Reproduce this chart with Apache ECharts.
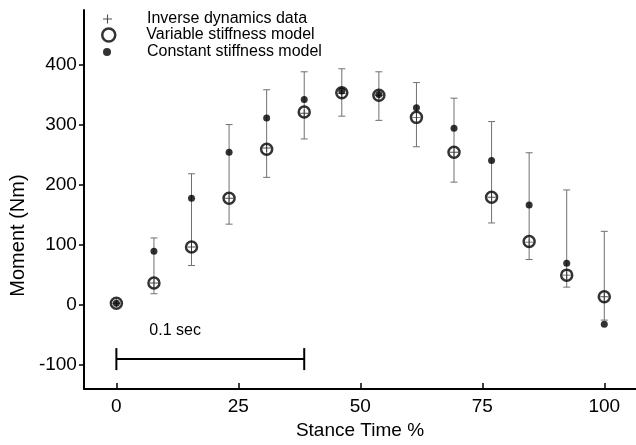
<!DOCTYPE html>
<html>
<head>
<meta charset="utf-8">
<script src="https://cdn.jsdelivr.net/npm/echarts@6/dist/echarts.min.js"></script>
<style>html,body{margin:0;padding:0;background:#fff}#c{width:636px;height:445px}</style>
</head>
<body>
<div id="c"></div>
<script>
// ---- data ----
const stancePct = [0, 7.7, 15.4, 23.1, 30.8, 38.5, 46.2, 53.8, 61.5, 69.2, 76.9, 84.6, 92.3, 100];
const inverseData = [3, 37, 97, 178, 262, 320, 353, 350, 313, 255, 180, 105, 50, 14];
const errLow  = [3, 19, 66, 135, 213, 277, 315, 308, 264, 205, 137, 76, 30, -25];
const errHigh = [3, 112, 219, 301, 359, 389, 394, 389, 371, 345, 306, 254, 192, 123];
const variableModel = [3, 37, 97, 178, 260, 322, 354, 350, 313, 255, 180, 106, 50, 14];
const constantModel = [3, 90, 178, 255, 312, 343, 357, 351, 329, 295, 241, 167, 70, -32];
const xTicks = [0, 25, 50, 75, 100];
const yTicks = [-100, 0, 100, 200, 300, 400];
const scaleBar = [0, 38.5, -90];   // start %, end %, moment level
const scaleBarLabel = '0.1 sec';
const seriesNames = ['Inverse dynamics data', 'Variable stiffness model', 'Constant stiffness model'];

const FONT = '"Liberation Sans", Arial, Helvetica, sans-serif';
const plusPath = 'path://M-0.12,-1H0.12V-0.12H1V0.12H0.12V1H-0.12V0.12H-1V-0.12H-0.12Z';

const pairs = a => stancePct.map((x, i) => [x, a[i]]);

const chart = echarts.init(document.getElementById('c'), null, {renderer: 'canvas'});
const legendBase = {
  orient: 'vertical', itemGap: 0, padding: 0,
  textStyle: {fontFamily: FONT, fontSize: 16, color: '#000'},
  selectedMode: false
};
chart.setOption({
  animation: false,
  backgroundColor: '#fff',
  grid: {left: 75, right: 0, top: 10, bottom: 51},
  legend: [
    Object.assign({}, legendBase, {data: [seriesNames[0]], top: 11, itemWidth: 9, itemHeight: 9, left: 103,
      textStyle: Object.assign({}, legendBase.textStyle, {padding: [0, 0, 0, 30]})}),
    Object.assign({}, legendBase, {data: [seriesNames[1]], top: 27, itemWidth: 13, itemHeight: 13, left: 101,
      itemStyle: {borderWidth: 2.5, borderColor: '#000', color: 'transparent'},
      textStyle: Object.assign({}, legendBase.textStyle, {padding: [0, 0, 0, 26]})}),
    Object.assign({}, legendBase, {data: [seriesNames[2]], top: 44, itemWidth: 8, itemHeight: 8, left: 103,
      textStyle: Object.assign({}, legendBase.textStyle, {padding: [0, 0, 0, 31]})})
  ],
  xAxis: {
    type: 'value', min: -6.65, max: 106.5,
    name: 'Stance Time %', nameLocation: 'middle', nameGap: 25,
    nameTextStyle: {fontFamily: FONT, fontSize: 19, color: '#000'},
    axisLine: {show: true, onZero: false, lineStyle: {color: '#000', width: 2}},
    axisTick: {show: true, inside: true, length: 6, customValues: xTicks, lineStyle: {color: '#000', width: 1.5}},
    axisLabel: {customValues: xTicks, fontFamily: FONT, fontSize: 19, color: '#000', margin: 8},
    splitLine: {show: false}
  },
  yAxis: {
    type: 'value', min: -140, max: 492,
    name: 'Moment (Nm)', nameLocation: 'middle', nameGap: 43, nameRotate: 90,
    nameTextStyle: {fontFamily: FONT, fontSize: 20, color: '#000', padding: [0, 72, 0, 0]},
    axisLine: {show: true, onZero: false, lineStyle: {color: '#000', width: 2}},
    axisTick: {show: true, inside: false, length: 5, customValues: yTicks, lineStyle: {color: '#000', width: 1.5}},
    axisLabel: {customValues: yTicks, fontFamily: FONT, fontSize: 19, color: '#000', margin: 7},
    splitLine: {show: false}
  },
  series: [
    {
      type: 'custom', name: 'errorbars', silent: true, z: 1,
      data: stancePct.map((x, i) => [x, errLow[i], errHigh[i]]),
      encode: {x: 0, y: [1, 2]},
      renderItem: function (params, api) {
        const x = api.value(0), lo = api.value(1), hi = api.value(2);
        if (hi - lo < 1) return {type: 'group', children: []};
        const a = api.coord([x, lo]), b = api.coord([x, hi]);
        const w = 3.5, st = {stroke: '#707070', lineWidth: 1};
        return {type: 'group', children: [
          {type: 'line', shape: {x1: a[0], y1: a[1], x2: b[0], y2: b[1]}, style: st},
          {type: 'line', shape: {x1: a[0] - w, y1: a[1], x2: a[0] + w, y2: a[1]}, style: st},
          {type: 'line', shape: {x1: b[0] - w, y1: b[1], x2: b[0] + w, y2: b[1]}, style: st}
        ]};
      }
    },
    {
      type: 'custom', name: 'scalebar', silent: true, z: 1,
      data: [scaleBar],
      encode: {x: [0, 1], y: 2},
      renderItem: function (params, api) {
        const a = api.coord([api.value(0), api.value(2)]), b = api.coord([api.value(1), api.value(2)]);
        const h = 11, st = {stroke: '#000', lineWidth: 2};
        return {type: 'group', children: [
          {type: 'line', shape: {x1: a[0], y1: a[1], x2: b[0], y2: b[1]}, style: st},
          {type: 'line', shape: {x1: a[0], y1: a[1] - h, x2: a[0], y2: a[1] + h}, style: st},
          {type: 'line', shape: {x1: b[0], y1: b[1] - h, x2: b[0], y2: b[1] + h}, style: st},
          {type: 'text', x: a[0] + 33, y: a[1] - 29,
           style: {text: scaleBarLabel, font: '16px ' + FONT, fill: '#000', align: 'left', verticalAlign: 'middle'}}
        ]};
      }
    },
    {
      type: 'scatter', name: seriesNames[1], z: 3,
      data: pairs(variableModel),
      symbol: 'circle', symbolSize: 11,
      itemStyle: {color: 'transparent', borderColor: '#000', borderWidth: 2.5}
    },
    {
      type: 'scatter', name: seriesNames[0], z: 4,
      data: pairs(inverseData),
      symbol: plusPath, symbolSize: 8, symbolKeepAspect: true,
      itemStyle: {color: '#222'}
    },
    {
      type: 'scatter', name: seriesNames[2], z: 5,
      data: pairs(constantModel),
      symbol: 'circle', symbolSize: 7,
      itemStyle: {color: '#000'}
    }
  ]
});
</script>
</body>
</html>
